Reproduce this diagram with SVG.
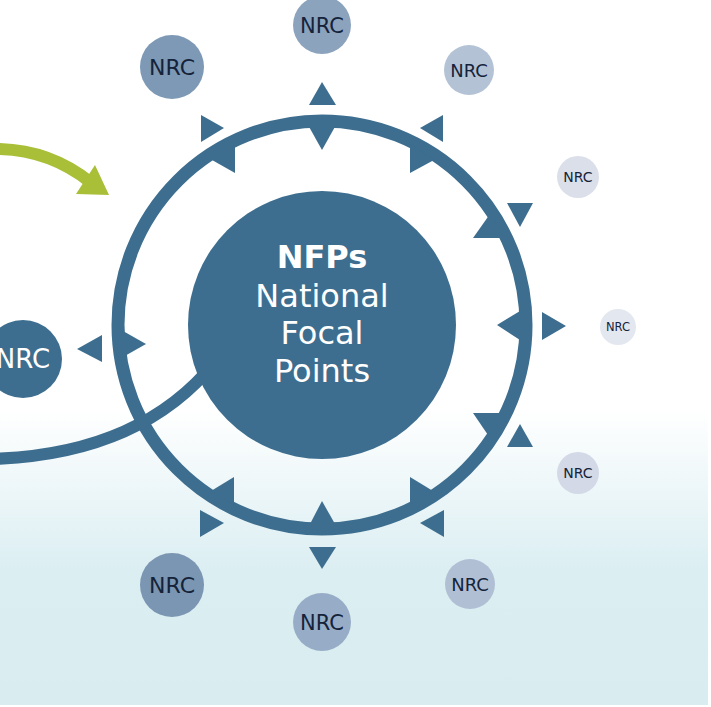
<svg xmlns="http://www.w3.org/2000/svg" width="711" height="707" viewBox="0 0 711 707">
<defs>
<linearGradient id="bg" x1="0" y1="0" x2="0" y2="1" gradientUnits="objectBoundingBox">
<stop offset="0" stop-color="#ffffff"/>
<stop offset="0.58" stop-color="#ffffff"/>
<stop offset="0.81" stop-color="#dbeef2"/>
<stop offset="1" stop-color="#d9ecf0"/>
</linearGradient>
<style>
.blue{fill:#3d6e8f}
.ring{fill:none;stroke:#3d6e8f;stroke-width:13}
.lbl{font-family:"DejaVu Sans",Verdana,sans-serif;fill:#15233a;text-anchor:middle}
.ctr{font-family:"DejaVu Sans",Verdana,sans-serif;fill:#ffffff;text-anchor:middle;font-size:32px}
</style>
</defs>
<rect x="0" y="0" width="708" height="705" fill="url(#bg)"/>

<g id="connectors">
<path d="M -10 459 Q 140 455 215 362" fill="none" stroke="#3d6e8f" stroke-width="12"/>
<path d="M -2 149 Q 50 150 90 182" fill="none" stroke="#a9bf38" stroke-width="12"/>
<polygon points="95,165 109,195 76,194" fill="#a9bf38"/>
</g>

<g id="ring">
<circle cx="322" cy="325" r="204" class="ring"/>
<polygon class="blue" points="308,125 336,125 322,150"/>
<polygon class="blue" points="235,144 235,173 212,160"/>
<polygon class="blue" points="410,144 410,173 434,160"/>
<polygon class="blue" points="473,238 503,238 490,214"/>
<polygon class="blue" points="520,311 520,340 497,325"/>
<polygon class="blue" points="473,413 503,413 490,438"/>
<polygon class="blue" points="410,477 410,505 433,491"/>
<polygon class="blue" points="310,524 335,524 322,501"/>
<polygon class="blue" points="234,477 234,505 211,491"/>
<polygon class="blue" points="123,331 123,357 146,344"/>
</g>

<g id="outer-arrows">
<polygon class="blue" points="309,105 336,105 322,82"/>
<polygon class="blue" points="201,115 201,142 224,128"/>
<polygon class="blue" points="443,115 443,142 420,128"/>
<polygon class="blue" points="507,203 533,203 520,227"/>
<polygon class="blue" points="542,312 542,340 566,326"/>
<polygon class="blue" points="507,447 533,447 520,424"/>
<polygon class="blue" points="444,510 444,537 420,523"/>
<polygon class="blue" points="309,547 336,547 322,569"/>
<polygon class="blue" points="200,510 200,537 224,523"/>
<polygon class="blue" points="102,335 102,362 77,349"/>
</g>

<g id="nfps">
<circle cx="322" cy="325" r="134" fill="#3d6e8f"/>
<text class="ctr" x="322" y="268" font-weight="bold">NFPs</text>
<text class="ctr" x="322" y="307">National</text>
<text class="ctr" x="322" y="344">Focal</text>
<text class="ctr" x="322" y="382">Points</text>
</g>

<g id="nrc-top">
<circle cx="322" cy="25" r="29" fill="#8ba3bd"/>
<text class="lbl" x="322" y="33" font-size="21">NRC</text>
</g>
<g id="nrc-top-left">
<circle cx="172" cy="67" r="32" fill="#7d99b5"/>
<text class="lbl" x="172" y="75" font-size="22">NRC</text>
</g>
<g id="nrc-top-right">
<circle cx="469" cy="70" r="25" fill="#b3c2d5"/>
<text class="lbl" x="469" y="77" font-size="18">NRC</text>
</g>
<g id="nrc-right-upper">
<circle cx="578" cy="177" r="21" fill="#dadfea"/>
<text class="lbl" x="578" y="182" font-size="14">NRC</text>
</g>
<g id="nrc-right">
<circle cx="618" cy="327" r="18" fill="#e3e7ef"/>
<text class="lbl" x="618" y="331" font-size="11.5">NRC</text>
</g>
<g id="nrc-right-lower">
<circle cx="578" cy="473" r="21" fill="#d3d9e6"/>
<text class="lbl" x="578" y="478" font-size="14">NRC</text>
</g>
<g id="nrc-bottom-right">
<circle cx="470" cy="584" r="25" fill="#b0bfd4"/>
<text class="lbl" x="470" y="591" font-size="18">NRC</text>
</g>
<g id="nrc-bottom">
<circle cx="322" cy="622" r="29" fill="#97adc7"/>
<text class="lbl" x="322" y="630" font-size="21">NRC</text>
</g>
<g id="nrc-bottom-left">
<circle cx="172" cy="585" r="32" fill="#7b96b2"/>
<text class="lbl" x="172" y="593" font-size="22">NRC</text>
</g>
<g id="nrc-left">
<circle cx="23" cy="359" r="39" fill="#3d6e8f"/>
<text x="23" y="368" font-size="26" fill="#ffffff" text-anchor="middle" font-family="'DejaVu Sans',Verdana,sans-serif">NRC</text>
</g>
</svg>
